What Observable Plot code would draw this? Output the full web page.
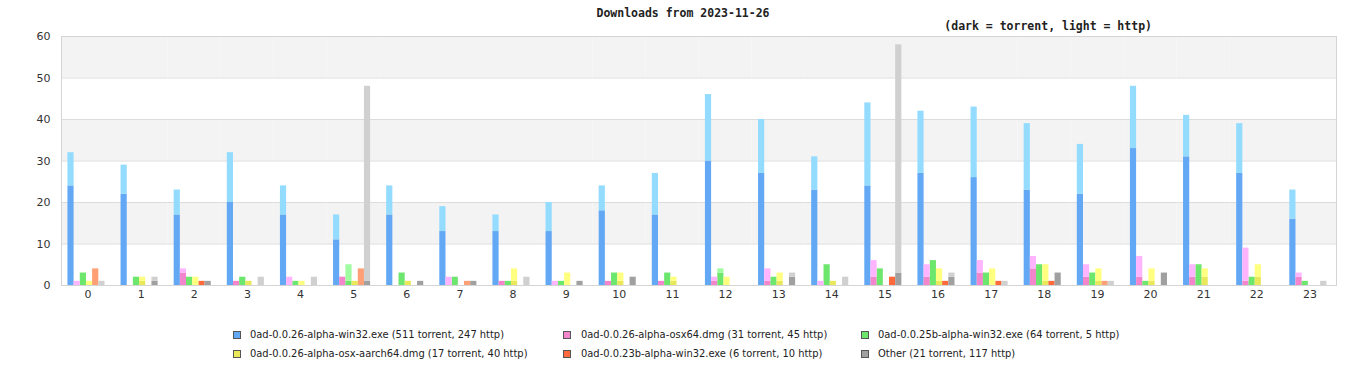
<!DOCTYPE html>
<html><head><meta charset="utf-8">
<script src="https://cdn.jsdelivr.net/npm/d3@7"></script>
<script src="https://cdn.jsdelivr.net/npm/@observablehq/plot@0.6"></script>
<style>
body{margin:0;background:#fff;}
#wrap{position:relative;width:1366px;height:380px;overflow:hidden;}
#chart{position:absolute;left:0;top:0;}
.ttl{position:absolute;font-family:"DejaVu Sans Mono",monospace;font-weight:bold;font-size:11.5px;line-height:14px;color:#222;white-space:nowrap;}
.leg{position:absolute;font-family:"DejaVu Sans Condensed","DejaVu Sans",sans-serif;font-stretch:condensed;font-size:11px;line-height:14px;color:#222;white-space:nowrap;}
.sw{position:absolute;width:6px;height:6px;border:1px solid #555;}
</style></head>
<body><div id="wrap"></div>
<script>
const hours = [0,1,2,3,4,5,6,7,8,9,10,11,12,13,14,15,16,17,18,19,20,21,22,23];
const yTicks = [0,10,20,30,40,50,60];
const seriesNames = ["0ad-0.0.26-alpha-win32.exe","0ad-0.0.26-alpha-osx64.dmg","0ad-0.0.25b-alpha-win32.exe","0ad-0.0.26-alpha-osx-aarch64.dmg","0ad-0.0.23b-alpha-win32.exe","Other"];
const darkColors  = ["#62a8f4","#f285cc","#6de66d","#e8e85a","#ff6a3d","#a0a0a0"];
const lightColors = ["#93dbff","#ffb4ff","#a0fca0","#ffff80","#ff9f75","#d0d0d0"];
const win32Torrent  = [24,22,17,20,17,11,17,13,13,13,18,17,30,27,23,24,27,26,23,22,33,31,27,16];
const win32Http     = [8,7,6,12,7,6,7,6,4,7,6,10,16,13,8,20,15,17,16,12,15,10,12,7];
const osx64Torrent  = [0,0,3,1,0,2,0,0,1,0,1,1,1,1,0,2,2,3,4,2,2,2,1,2];
const osx64Http     = [1,0,1,0,2,0,0,2,0,1,0,0,1,3,1,4,3,3,3,3,5,3,8,1];
const w25bTorrent   = [3,2,2,2,1,1,3,2,1,1,3,3,3,2,5,4,6,3,5,3,1,5,2,1];
const w25bHttp      = [0,0,0,0,0,4,0,0,0,0,0,0,1,0,0,0,0,0,0,0,0,0,0,0];
const aarchTorrent  = [0,1,0,1,0,1,1,0,1,0,1,1,0,1,1,0,1,0,1,1,1,2,2,0];
const aarchHttp     = [1,1,2,0,1,0,0,0,3,3,2,1,2,2,0,0,3,4,4,3,3,2,3,0];
const w23bTorrent   = [0,0,1,0,0,0,0,0,0,0,0,0,0,0,0,2,1,1,1,0,0,0,0,0];
const w23bHttp      = [4,0,0,0,0,4,0,1,0,0,0,0,0,0,0,0,0,0,0,1,0,0,0,0];
const otherTorrent  = [0,1,1,0,0,1,1,1,0,1,2,0,0,2,0,3,2,0,3,0,3,0,0,0];
const otherHttp     = [1,1,0,2,2,47,0,0,2,0,0,0,0,1,2,55,1,1,0,1,0,0,0,1];
const legendTotals = ["(511 torrent, 247 http)","(31 torrent, 45 http)","(64 torrent, 5 http)","(17 torrent, 40 http)","(6 torrent, 10 http)","(21 torrent, 117 http)"];

const torrentBy = [win32Torrent, osx64Torrent, w25bTorrent, aarchTorrent, w23bTorrent, otherTorrent];
const httpBy = [win32Http, osx64Http, w25bHttp, aarchHttp, w23bHttp, otherHttp];

const rows = [];
hours.forEach((h, i) => seriesNames.forEach((s, j) => {
  const t = torrentBy[j][i], p = httpBy[j][i];
  rows.push({hour: h, series: s, t, total: t + p, dark: darkColors[j], light: lightColors[j]});
}));
const bands = [{lo:50,hi:60},{lo:30,hi:40},{lo:10,hi:20}];

const chart = Plot.plot({
  width: 1366, height: 310,
  marginTop: 36, marginBottom: 25, marginLeft: 61, marginRight: 30,
  fx: {domain: hours, padding: 0, round: false, label: null, axis: "bottom", tickSize: 0, tickPadding: 5},
  x: {domain: seriesNames, axis: null, paddingInner: 0, paddingOuter: 1.3, align: 0.4, round: false},
  y: {domain: [0, 60], ticks: yTicks, tickSize: 0, tickPadding: 11, label: null},
  color: {type: "identity"},
  style: {fontFamily: "DejaVu Sans", fontSize: "11px", color: "#333", background: "transparent"},
  marks: [
    Plot.rectY(bands, {y1: "lo", y2: "hi", fill: "#f3f3f3"}),
    Plot.ruleY(yTicks, {stroke: "#dcdcdc"}),
    Plot.barY(rows.filter(d => d.t > 0), {fx: "hour", x: "series", y1: 0, y2: "t", fill: "dark"}),
    Plot.barY(rows.filter(d => d.total > d.t), {fx: "hour", x: "series", y1: "t", y2: "total", fill: "light"}),
    Plot.frame({stroke: "#d4d4d4", facet: "super"})
  ]
});
chart.id = "chart";
const wrap = document.getElementById("wrap");
wrap.appendChild(chart);

function addDiv(cls, text, css){ const d=document.createElement("div"); d.className=cls; d.textContent=text; Object.assign(d.style, css); wrap.appendChild(d); return d; }
addDiv("ttl", "Downloads from 2023-11-26", {left:"0px", width:"1366px", textAlign:"center", top:"6px"});
addDiv("ttl", "(dark = torrent, light = http)", {right:"214px", top:"19px"});

const legX = [[233,250],[563,581],[861,878]];
const legY = [328, 347];
seriesNames.forEach((s, j) => {
  const col = j % 3, row = Math.floor(j / 3);
  const sw = document.createElement("div"); sw.className = "sw";
  Object.assign(sw.style, {left: legX[col][0] + "px", top: (legY[row] + 3) + "px", background: darkColors[j]});
  wrap.appendChild(sw);
  addDiv("leg", s + " " + legendTotals[j], {left: legX[col][1] + "px", top: legY[row] + "px"});
});
</script></body></html>
